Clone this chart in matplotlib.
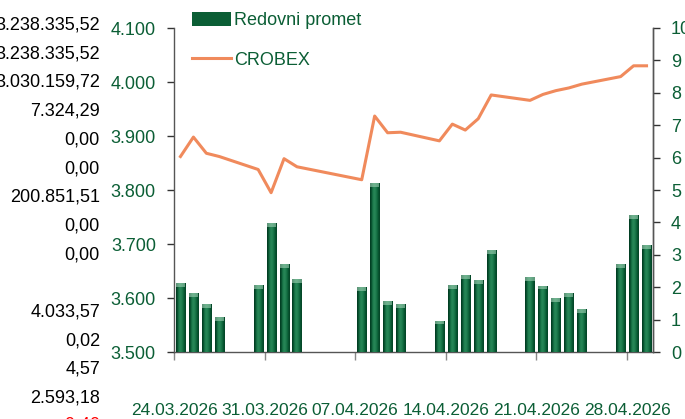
import matplotlib
matplotlib.use("Agg")
import matplotlib.pyplot as plt
import matplotlib.dates as mdates
from matplotlib.lines import Line2D
from matplotlib.patches import Patch
from matplotlib.ticker import FuncFormatter, FixedLocator
import numpy as np
import pandas as pd

dates = ["24.03.2026", "25.03.2026", "26.03.2026", "27.03.2026",
         "30.03.2026", "31.03.2026", "01.04.2026", "02.04.2026",
         "07.04.2026", "08.04.2026", "09.04.2026", "10.04.2026",
         "13.04.2026", "14.04.2026", "15.04.2026", "16.04.2026", "17.04.2026",
         "20.04.2026", "21.04.2026", "22.04.2026", "23.04.2026", "24.04.2026",
         "27.04.2026", "28.04.2026", "29.04.2026"]

promet = [2.12, 1.81, 1.47, 1.08,
          2.07, 3.97, 2.72, 2.24,
          2.00, 5.21, 1.57, 1.47,
          0.97, 2.07, 2.38, 2.22, 3.15,
          2.30, 2.05, 1.66, 1.81, 1.32,
          2.72, 4.23, 3.30]

crobex = [3862, 3898, 3868, 3862,
          3838, 3795, 3858, 3843,
          3819, 3937, 3906, 3907,
          3891, 3922, 3911, 3932, 3976,
          3966, 3977, 3984, 3989, 3996,
          4010, 4030, 4030]

tick_dates = ["24.03.2026", "31.03.2026", "07.04.2026",
              "14.04.2026", "21.04.2026", "28.04.2026"]

side_values = ["3.238.335,52", "3.238.335,52", "3.030.159,72", "7.324,29",
               "0,00", "0,00", "200.851,51", "0,00", "0,00", "",
               "4.033,57", "0,02", "4,57", "2.593,18"]

green = "#0b5e35"
orange = "#f08a5c"
sans = ["Liberation Sans", "DejaVu Sans"]
plt.rcParams["font.family"] = sans

d = pd.to_datetime(dates, format="%d.%m.%Y")
x = mdates.date2num(d) + 0.5
tx = mdates.date2num(pd.to_datetime(tick_dates, format="%d.%m.%Y"))

fig = plt.figure(figsize=(6.85, 4.19), dpi=100)
W, H = 685, 419
ax = fig.add_axes([174 / W, 67 / H, (653 - 174) / W, (352 - 28) / H])

# bars (right scale)
bars = ax.bar(x, promet, width=0.7, color=green, zorder=2)
grad = np.array([[0.0, 0.55, 0.85, 0.7, 0.4, 0.1]])
cmap = matplotlib.colors.LinearSegmentedColormap.from_list(
    "g", ["#003a20", "#0e6a3e", "#2a8a5a"])
for b in bars:
    x0, y0 = b.get_x(), b.get_y()
    w, h = b.get_width(), b.get_height()
    im = ax.imshow(grad, cmap=cmap, aspect="auto", extent=[x0, x0 + w, y0, y0 + h],
                   zorder=3, interpolation="bicubic")
    im.set_clip_path(b)
    ax.bar(x0 + w / 2, 0.12, bottom=h - 0.12, width=w, color="#9fd0b4",
           alpha=0.6, zorder=4)

ax.set_ylim(0, 10)
ax.set_yticks(range(0, 11))
ax.set_xlim(tx[0], tx[0] + 37)
ax.xaxis.set_major_locator(FixedLocator(tx))
ax.set_xticklabels(tick_dates)

ax2 = ax.twinx()
ax2.plot(x, crobex, color=orange, lw=2.2, zorder=5)
ax2.set_ylim(3500, 4100)
ax2.set_yticks(range(3500, 4101, 100))
ax2.yaxis.set_major_formatter(FuncFormatter(lambda v, p: f"{v:,.0f}".replace(",", ".")))
ax.yaxis.tick_right()
ax2.yaxis.tick_left()

for a in (ax, ax2):
    a.spines["top"].set_visible(False)
    for s in ("left", "right", "bottom"):
        a.spines[s].set_color("#555555")
        a.spines[s].set_linewidth(1.0)
    a.tick_params(axis="y", colors="#333333", length=5, width=1,
                  labelcolor=green, labelsize=13, pad=8)
ax.spines["left"].set_visible(False)
ax2.spines["bottom"].set_visible(False)
ax.tick_params(axis="x", colors="#888888", length=6, width=1,
               labelcolor=green, labelsize=12.5, pad=31)

handles = [Patch(facecolor=green, edgecolor="none"),
           Line2D([], [], color=orange, lw=2.2)]
leg = fig.legend(handles, ["Redovni promet", "CROBEX"], loc="upper left",
                 bbox_to_anchor=(192 / W, 1 - 12 / H), frameon=False,
                 fontsize=13, handlelength=2.15, handleheight=0.85,
                 handletextpad=0.2, labelspacing=1.2, borderpad=0, borderaxespad=0)
for t in leg.get_texts():
    t.set_color(green)

# spreadsheet cell values showing at the left edge
for i, s in enumerate(side_values):
    fig.text(100 / W, 1 - (25 + i * 28.7) / H, s, ha="right", va="center",
             fontsize=13, color="black")
fig.text(100 / W, 1 - 425 / H, "-0,40", ha="right", va="center",
         fontsize=13, color="red")

fig.savefig("out.png", dpi=100)
